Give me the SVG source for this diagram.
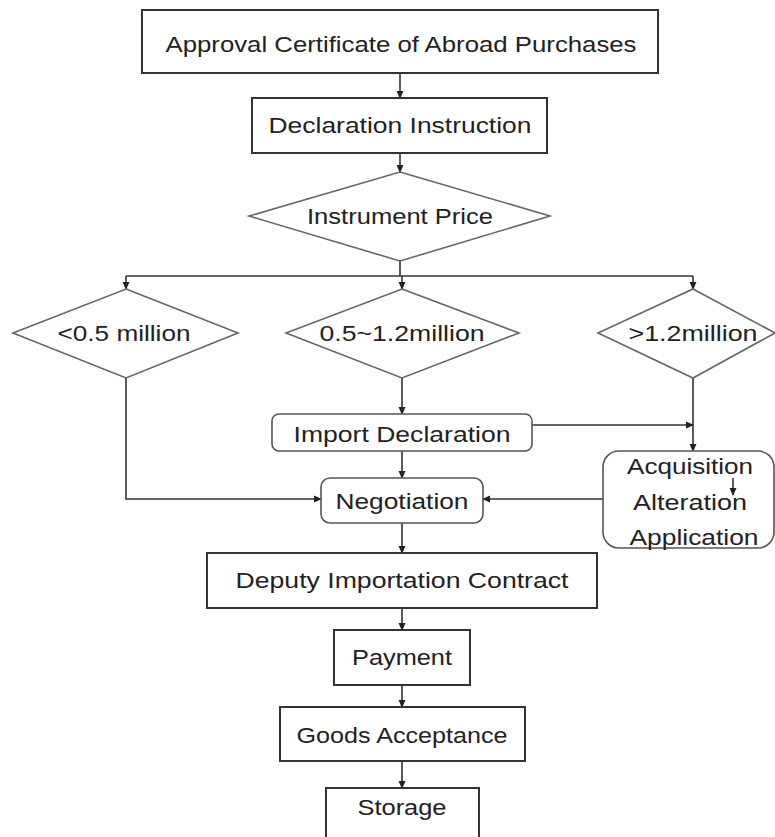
<svg xmlns="http://www.w3.org/2000/svg" width="775" height="837" viewBox="0 0 775 837">
<style>
.box{fill:#fff;stroke:#333;stroke-width:2}
.rbox{fill:#fff;stroke:#555;stroke-width:1.6}
.dia{fill:#fff;stroke:#666;stroke-width:1.6}
.t{font-family:"Liberation Sans",Arial,sans-serif;font-size:22px;fill:#222;text-anchor:middle}
.c{fill:none;stroke:#333;stroke-width:1.6}
</style>
<defs>
<marker id="ah" markerWidth="8" markerHeight="8" refX="7" refY="4" orient="auto" markerUnits="userSpaceOnUse">
<path d="M0,0.5 L8,4 L0,7.5 Z" fill="#222"/>
</marker>
</defs>
<rect width="775" height="837" fill="#fff"/>
<g id="connectors">
<path class="c" d="M400,73 V98" marker-end="url(#ah)"/>
<path class="c" d="M400,153 V172" marker-end="url(#ah)"/>
<path class="c" d="M400,261 V276"/>
<path class="c" d="M126,276 H693"/>
<path class="c" d="M126,276 V289" marker-end="url(#ah)"/>
<path class="c" d="M402,276 V289" marker-end="url(#ah)"/>
<path class="c" d="M693,276 V289" marker-end="url(#ah)"/>
<path class="c" d="M126,378 V499 H321" marker-end="url(#ah)"/>
<path class="c" d="M402,378 V414" marker-end="url(#ah)"/>
<path class="c" d="M532,425 H693" marker-end="url(#ah)"/>
<path class="c" d="M693,378 V451" marker-end="url(#ah)"/>
<path class="c" d="M402,451 V478" marker-end="url(#ah)"/>
<path class="c" d="M603,499 H483" marker-end="url(#ah)"/>
<path class="c" d="M402,523 V553" marker-end="url(#ah)"/>
<path class="c" d="M402,608 V630" marker-end="url(#ah)"/>
<path class="c" d="M402,685 V707" marker-end="url(#ah)"/>
<path class="c" d="M402,761 V788" marker-end="url(#ah)"/>
</g>
<g id="approval">
<rect class="box" x="142" y="10" width="516" height="63"/>
<text class="t" x="401" y="52" textLength="471" lengthAdjust="spacingAndGlyphs">Approval Certificate of Abroad Purchases</text>
</g>
<g id="declaration">
<rect class="box" x="252" y="98" width="295" height="55"/>
<text class="t" x="400" y="133" textLength="263" lengthAdjust="spacingAndGlyphs">Declaration Instruction</text>
</g>
<g id="price">
<polygon class="dia" points="400,172 550,216 400,261 249,216"/>
<text class="t" x="400" y="224" textLength="186" lengthAdjust="spacingAndGlyphs">Instrument Price</text>
</g>
<g id="low">
<polygon class="dia" points="126,289 238,333 126,378 13,333"/>
<text class="t" x="124" y="341" textLength="133" lengthAdjust="spacingAndGlyphs">&lt;0.5 million</text>
</g>
<g id="mid">
<polygon class="dia" points="402,289 519,333 402,378 286,333"/>
<text class="t" x="402" y="341" textLength="165" lengthAdjust="spacingAndGlyphs">0.5~1.2million</text>
</g>
<g id="high">
<polygon class="dia" points="693,289 775,333 693,378 598,333"/>
<text class="t" x="693" y="341" textLength="129" lengthAdjust="spacingAndGlyphs">&gt;1.2million</text>
</g>
<g id="import">
<rect class="rbox" x="272" y="414" width="260" height="37" rx="7"/>
<text class="t" x="402" y="442" textLength="217" lengthAdjust="spacingAndGlyphs">Import Declaration</text>
</g>
<g id="negotiation">
<rect class="rbox" x="321" y="478" width="162" height="45" rx="9"/>
<text class="t" x="402" y="509" textLength="133" lengthAdjust="spacingAndGlyphs">Negotiation</text>
</g>
<g id="acquisition">
<rect class="rbox" x="603" y="451" width="171" height="97" rx="16"/>
<text class="t" x="690" y="474" textLength="126" lengthAdjust="spacingAndGlyphs">Acquisition</text>
<text class="t" x="690" y="510" textLength="114" lengthAdjust="spacingAndGlyphs">Alteration</text>
<text class="t" x="694" y="545" textLength="129" lengthAdjust="spacingAndGlyphs">Application</text>
<path class="c" d="M733,478 V495" marker-end="url(#ah)"/>
</g>
<g id="contract">
<rect class="box" x="207" y="553" width="390" height="55"/>
<text class="t" x="402" y="588" textLength="333" lengthAdjust="spacingAndGlyphs">Deputy Importation Contract</text>
</g>
<g id="payment">
<rect class="box" x="334" y="630" width="136" height="55"/>
<text class="t" x="402" y="665" textLength="100" lengthAdjust="spacingAndGlyphs">Payment</text>
</g>
<g id="goods">
<rect class="box" x="280" y="707" width="245" height="54"/>
<text class="t" x="402" y="743" textLength="211" lengthAdjust="spacingAndGlyphs">Goods Acceptance</text>
</g>
<g id="storage">
<rect class="box" x="326" y="788" width="153" height="60"/>
<text class="t" x="402" y="815" textLength="89" lengthAdjust="spacingAndGlyphs">Storage</text>
</g>
</svg>
